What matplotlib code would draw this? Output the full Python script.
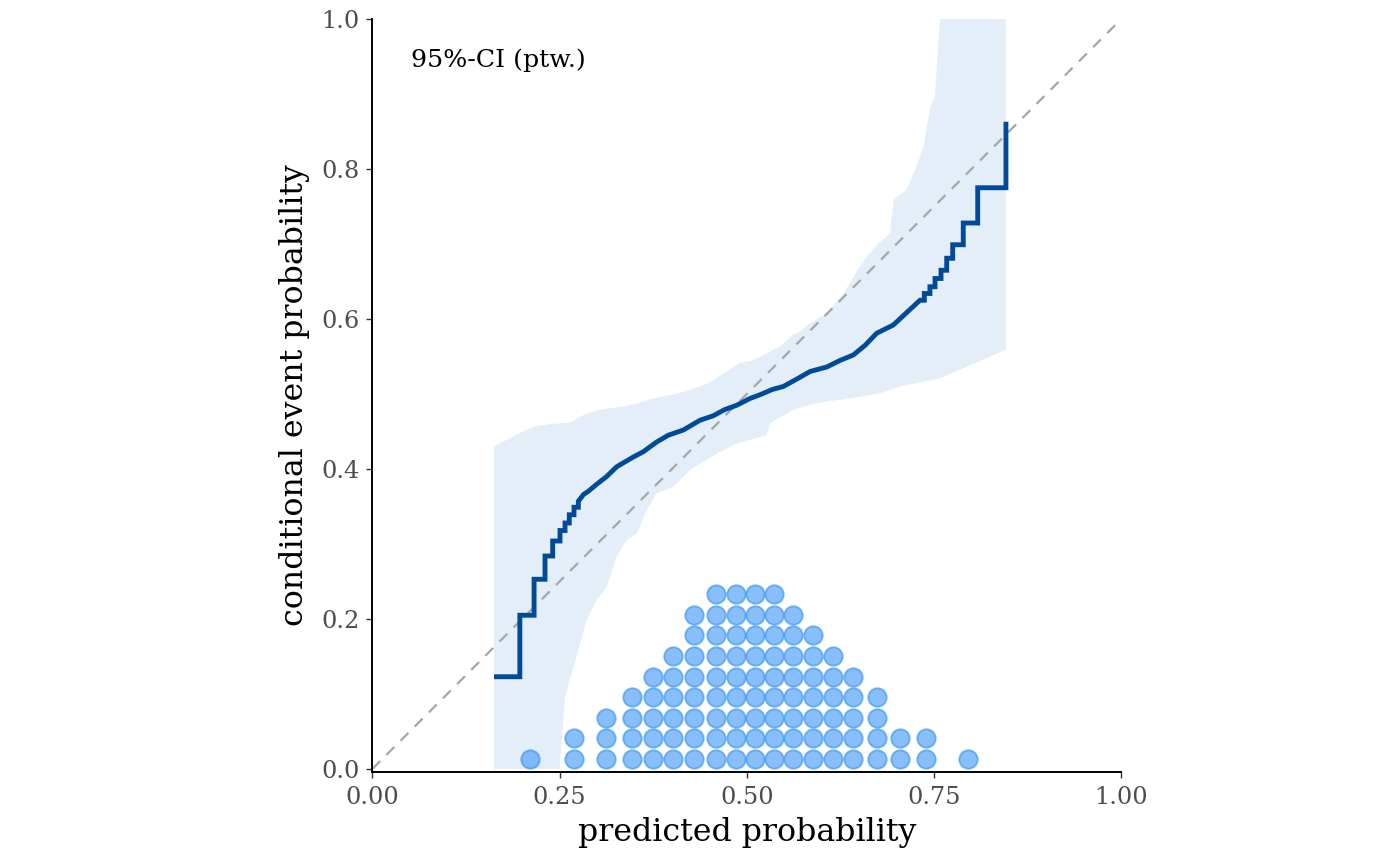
import numpy as np
import matplotlib
matplotlib.use("Agg")
import matplotlib.pyplot as plt

# calibration curve (step function)
cal_x = [0.1625, 0.1970, 0.2160, 0.2306, 0.2408, 0.2506, 0.2573, 0.2630, 0.2693,
         0.2751, 0.2820, 0.2880, 0.3000, 0.3129, 0.3263, 0.3485, 0.3618, 0.3797,
         0.3950, 0.4153, 0.4375, 0.4553, 0.4700, 0.4865, 0.5042, 0.5176, 0.5340,
         0.5487, 0.5687, 0.5844, 0.6067, 0.6250, 0.6422, 0.6580, 0.6734, 0.6956,
         0.7150, 0.7312, 0.7370, 0.7445, 0.7513, 0.7593, 0.7669, 0.7749, 0.7890,
         0.8083, 0.8460]
cal_y = [0.123, 0.205, 0.253, 0.284, 0.304, 0.318, 0.328, 0.339, 0.349,
         0.357, 0.366, 0.370, 0.380, 0.390, 0.403, 0.416, 0.423, 0.436,
         0.445, 0.452, 0.465, 0.471, 0.479, 0.485, 0.494, 0.499, 0.506,
         0.510, 0.521, 0.530, 0.536, 0.545, 0.552, 0.565, 0.581, 0.592,
         0.610, 0.625, 0.634, 0.643, 0.654, 0.665, 0.681, 0.699, 0.728,
         0.775, 0.863]

# pointwise 95% CI, upper and lower edges
ci_hi_x = [0.1625, 0.197, 0.217, 0.240, 0.264, 0.282, 0.300, 0.317, 0.335, 0.355,
           0.375, 0.400, 0.424, 0.450, 0.473, 0.490, 0.509, 0.535, 0.544, 0.562,
           0.571, 0.584, 0.607, 0.629, 0.645, 0.660, 0.675, 0.691, 0.696, 0.713,
           0.725, 0.736, 0.745, 0.751, 0.758, 0.846]
ci_hi = [0.430, 0.448, 0.457, 0.460, 0.462, 0.472, 0.478, 0.481, 0.483, 0.488,
         0.494, 0.499, 0.505, 0.515, 0.530, 0.541, 0.545, 0.559, 0.563, 0.579,
         0.583, 0.594, 0.608, 0.634, 0.660, 0.683, 0.700, 0.714, 0.759, 0.772,
         0.800, 0.830, 0.883, 0.896, 1.000, 1.000]
ci_lo_x = [0.1625, 0.250, 0.2573, 0.2773, 0.2862, 0.2996, 0.3129, 0.3263, 0.3396,
           0.353, 0.3663, 0.3797, 0.4019, 0.4242, 0.4642, 0.4865, 0.5265, 0.5309,
           0.5621, 0.5933, 0.6378, 0.6778, 0.7045, 0.7579, 0.846]
ci_lo = [0.000, 0.000, 0.095, 0.167, 0.199, 0.225, 0.243, 0.283, 0.305,
         0.314, 0.345, 0.368, 0.376, 0.399, 0.423, 0.434, 0.445, 0.461,
         0.479, 0.488, 0.494, 0.501, 0.510, 0.521, 0.559]

# dot plot of predicted probabilities: bin centres and counts
dot_x = [0.2106, 0.2693, 0.3116, 0.3463, 0.3744, 0.4019, 0.4300, 0.4585, 0.4852,
         0.5110, 0.5367, 0.5621, 0.5880, 0.6147, 0.6422, 0.6742, 0.7045, 0.7393,
         0.7957]
dot_n = [1, 2, 3, 4, 5, 6, 8, 9, 9, 9, 9, 8, 7, 6, 5, 4, 2, 2, 1]

plt.rcParams['font.family'] = 'DejaVu Serif'

fig = plt.figure(figsize=(14, 8.66), dpi=100)
ax = fig.add_axes([372.3 / 1400, 1 - 772 / 866, 749 / 1400, 753 / 866])

# CI band
ax.fill(ci_hi_x + ci_lo_x[::-1], ci_hi + ci_lo[::-1],
        color='#E4EEF9', lw=0, zorder=1)

# diagonal
ax.plot([0, 1], [0, 1], color='#A6A6A6', lw=1.6, ls=(0, (5, 4)), zorder=2)

# stacked dots
step = 0.0274
px, py = [], []
for x, n in zip(dot_x, dot_n):
    for k in range(n):
        px.append(x)
        py.append((k + 0.5) * step)
ax.scatter(px, py, s=175, facecolor=(0.25, 0.60, 0.98), edgecolor=(0.20, 0.57, 0.95),
           linewidths=1.4, alpha=0.62, zorder=3)

# calibration curve: visible steps at the sparse ends, near-continuous in the middle
vx, vy = [cal_x[0]], [cal_y[0]]
for i in range(1, len(cal_x)):
    if cal_x[i] < 0.28 or cal_x[i] > 0.735:
        vx.append(cal_x[i])
        vy.append(cal_y[i - 1])
    vx.append(cal_x[i])
    vy.append(cal_y[i])
ax.plot(vx, vy, color='#004A98', lw=3.5,
        solid_joinstyle='miter', solid_capstyle='butt', zorder=4)

ax.text(0.052, 0.9364, '95%-CI (ptw.)', fontsize=18.2, ha='left', va='baseline',
        color='black')

ax.set_xlim(0, 1)
ax.set_ylim(-0.004, 1.0)
ax.set_xticks([0, 0.25, 0.5, 0.75, 1.0])
ax.set_xticklabels(['0.00', '0.25', '0.50', '0.75', '1.00'])
ax.set_yticks([0, 0.2, 0.4, 0.6, 0.8, 1.0])
ax.set_yticklabels(['0.0', '0.2', '0.4', '0.6', '0.8', '1.0'])
ax.tick_params(labelsize=17.3, labelcolor='#4D4D4D', color='#333333',
               length=4, width=1.0)
ax.tick_params(axis='x', pad=6)
ax.tick_params(axis='y', pad=5)
for s in ['top', 'right']:
    ax.spines[s].set_visible(False)
for s in ['left', 'bottom']:
    ax.spines[s].set_linewidth(1.4)
    ax.spines[s].set_color('black')

ax.set_xlabel('predicted probability', fontsize=22.8, labelpad=6)
ax.set_ylabel('conditional event probability', fontsize=22.8, labelpad=8)

fig.savefig('out.png', dpi=100)
